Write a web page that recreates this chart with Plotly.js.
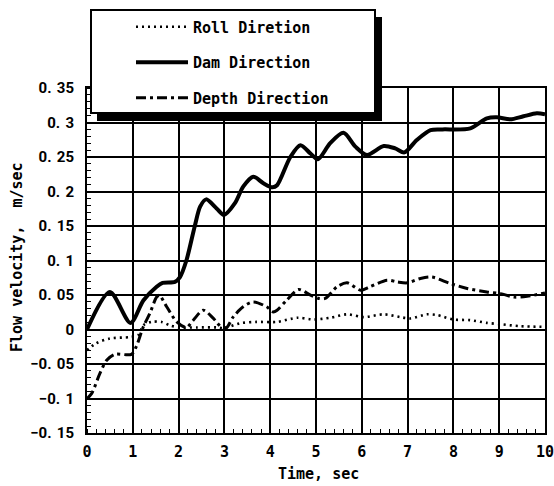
<!DOCTYPE html>
<html>
<head>
<meta charset="utf-8">
<script src="https://cdn.plot.ly/plotly-3.0.1.min.js"></script>
<style>html,body{margin:0;padding:0;background:#fff;}#chart{width:554px;height:486px;}</style>
</head>
<body>
<div id="chart"></div>
<script>
// ---- data ----
var rollT = [0, 0.2, 0.5, 0.94, 1.12, 1.23, 1.41, 1.63, 1.81, 2.03, 2.4, 2.83, 3.0, 3.34, 3.7, 4.15, 4.59, 4.95, 5.31, 5.68, 6.04, 6.48, 6.84, 7.06, 7.42, 7.64, 8.0, 8.37, 8.73, 9.03, 9.46, 10];
var rollV = [-0.030, -0.020, -0.013, -0.011, -0.008, 0.006, 0.011, 0.011, 0.006, 0.003, 0.003, 0.003, 0.002, 0.009, 0.011, 0.011, 0.017, 0.0145, 0.017, 0.022, 0.018, 0.022, 0.018, 0.016, 0.022, 0.021, 0.0145, 0.0135, 0.0096, 0.0077, 0.0048, 0.0038];

var damT = [0, 0.5, 0.95, 1.23, 1.52, 1.65, 1.92, 2.03, 2.17, 2.35, 2.47, 2.6, 2.83, 2.99, 3.23, 3.41, 3.63, 3.85, 4.05, 4.15, 4.44, 4.66, 4.88, 5.04, 5.31, 5.6, 5.86, 6.11, 6.48, 6.73, 6.93, 7.2, 7.5, 7.76, 8.37, 8.73, 8.95, 9.24, 9.53, 9.82, 10];
var damV = [0, 0.0545, 0.0096, 0.042, 0.062, 0.0676, 0.069, 0.076, 0.100, 0.149, 0.178, 0.1886, 0.1755, 0.166, 0.183, 0.207, 0.2214, 0.212, 0.206, 0.209, 0.250, 0.267, 0.255, 0.2466, 0.270, 0.285, 0.265, 0.253, 0.266, 0.2625, 0.2567, 0.2746, 0.289, 0.290, 0.2915, 0.306, 0.3075, 0.3046, 0.309, 0.3133, 0.312];

var depthT = [0, 0.1, 0.28, 0.43, 0.61, 0.97, 1.08, 1.23, 1.37, 1.52, 1.58, 1.74, 1.96, 2.17, 2.32, 2.54, 2.76, 2.94, 3.05, 3.19, 3.41, 3.63, 3.92, 4.07, 4.15, 4.36, 4.62, 4.88, 5.06, 5.2, 5.46, 5.68, 5.97, 6.18, 6.55, 6.77, 6.99, 7.28, 7.53, 7.93, 8.3, 8.73, 9.03, 9.32, 9.61, 10];
var depthV = [-0.100, -0.093, -0.064, -0.0445, -0.036, -0.036, -0.024, 0.004, 0.023, 0.047, 0.0497, 0.033, 0.011, 0.003, 0.0135, 0.028, 0.016, 0.003, 0.003, 0.018, 0.033, 0.040, 0.033, 0.0255, 0.028, 0.0425, 0.058, 0.0497, 0.045, 0.045, 0.062, 0.0676, 0.057, 0.062, 0.0715, 0.069, 0.0676, 0.074, 0.076, 0.0667, 0.0595, 0.0545, 0.052, 0.047, 0.048, 0.053];

var seriesNames = ['Roll Diretion', 'Dam Direction', 'Depth Direction'];

var xTickVals = [0, 1, 2, 3, 4, 5, 6, 7, 8, 9, 10];
var xTickText = ['0', '1', '2', '3', '4', '5', '6', '7', '8', '9', '10'];
var yTickVals = [-0.15, -0.1, -0.05, 0, 0.05, 0.1, 0.15, 0.2, 0.25, 0.3, 0.35];
var yTickText = ['\u22120.\u00a0\u200a15', '\u22120.\u00a0\u200a1', '\u22120.\u00a0\u200a05', '0', '0.\u00a0\u200a05', '0.\u00a0\u200a1', '0.\u00a0\u200a15', '0.\u00a0\u200a2', '0.\u00a0\u200a25', '0.\u00a0\u200a3', '0.\u00a0\u200a35'];

var xTitle = 'Time, sec';
var yTitle = 'Flow velocity,\u00a0 m/sec';

// ---- chart ----
var mono = 'DejaVu Sans Mono, monospace';
var traces = [
  {x: rollT, y: rollV, name: seriesNames[0], legendgroup: 'a', mode: 'lines',
   line: {color: '#000', width: 2.6, dash: '2px,4px', shape: 'spline', smoothing: 0.8}},
  {x: damT, y: damV, name: seriesNames[1], legendgroup: 'b', mode: 'lines',
   line: {color: '#000', width: 4, shape: 'spline', smoothing: 0.8}},
  {x: depthT, y: depthV, name: seriesNames[2], legendgroup: 'c', mode: 'lines',
   line: {color: '#000', width: 3, dash: '10px,4px,3px,4px', shape: 'spline', smoothing: 0.8}}
];

function px2x(p) { return (p - 87) / 458; }
function px2y(p) { return (433 - p) / 345; }

var layout = {
  width: 554, height: 486,
  margin: {l: 87, r: 9, t: 88, b: 53},
  paper_bgcolor: '#fff', plot_bgcolor: '#fff',
  showlegend: true,
  legend: {
    x: px2x(131), y: px2y(10.5), xanchor: 'left', yanchor: 'top',
    bgcolor: 'rgba(0,0,0,0)', borderwidth: 0,
    font: {family: mono, size: 15, color: '#000', weight: 'bold'},
    itemwidth: 52, traceorder: 'grouped', tracegroupgap: 13
  },
  xaxis: {
    range: [0, 10], tickmode: 'array', tickvals: xTickVals, ticktext: xTickText,
    showgrid: true, gridcolor: '#000', gridwidth: 2, zeroline: false,
    showline: true, linecolor: '#000', linewidth: 2, mirror: true,
    ticks: '', ticklabelstandoff: 4, ticklabeloverflow: 'allow',
    tickfont: {family: mono, size: 15, color: '#000', weight: 'bold'},
    minor: {tickmode: 'linear', tick0: 0, dtick: 0.2, ticks: 'inside', ticklen: 4, tickwidth: 1, tickcolor: '#000', showgrid: false}
  },
  yaxis: {
    range: [-0.15, 0.35], tickmode: 'array', tickvals: yTickVals, ticktext: yTickText,
    showgrid: true, gridcolor: '#000', gridwidth: 2, zeroline: false,
    showline: true, linecolor: '#000', linewidth: 2, mirror: true,
    ticks: '', ticklabelstandoff: 8,
    tickfont: {family: 'Roboto, sans-serif', size: 15, color: '#000', weight: 'bold'},
    minor: {tickmode: 'linear', tick0: 0, dtick: 0.01, ticks: 'inside', ticklen: 4, tickwidth: 1, tickcolor: '#000', showgrid: false}
  },
  shapes: [
    {type: 'rect', xref: 'paper', yref: 'paper', layer: 'above',
     x0: px2x(97), x1: px2x(382), y0: px2y(121), y1: px2y(17),
     fillcolor: '#000', line: {width: 0}},
    {type: 'rect', xref: 'paper', yref: 'paper', layer: 'above',
     x0: px2x(91), x1: px2x(375), y0: px2y(113), y1: px2y(10),
     fillcolor: '#fff', line: {color: '#000', width: 2}}
  ],
  annotations: [
    {text: yTitle, xref: 'paper', yref: 'paper', x: px2x(17), y: px2y(257),
     xanchor: 'center', yanchor: 'middle', textangle: -90, showarrow: false,
     font: {family: mono, size: 15, color: '#000', weight: 'bold'}},
    {text: xTitle, xref: 'paper', yref: 'paper', x: px2x(318), y: px2y(474),
     xanchor: 'center', yanchor: 'middle', showarrow: false,
     font: {family: mono, size: 15, color: '#000', weight: 'bold'}}
  ]
};

Plotly.newPlot('chart', traces, layout, {displayModeBar: false, staticPlot: true});
</script>
</body>
</html>
